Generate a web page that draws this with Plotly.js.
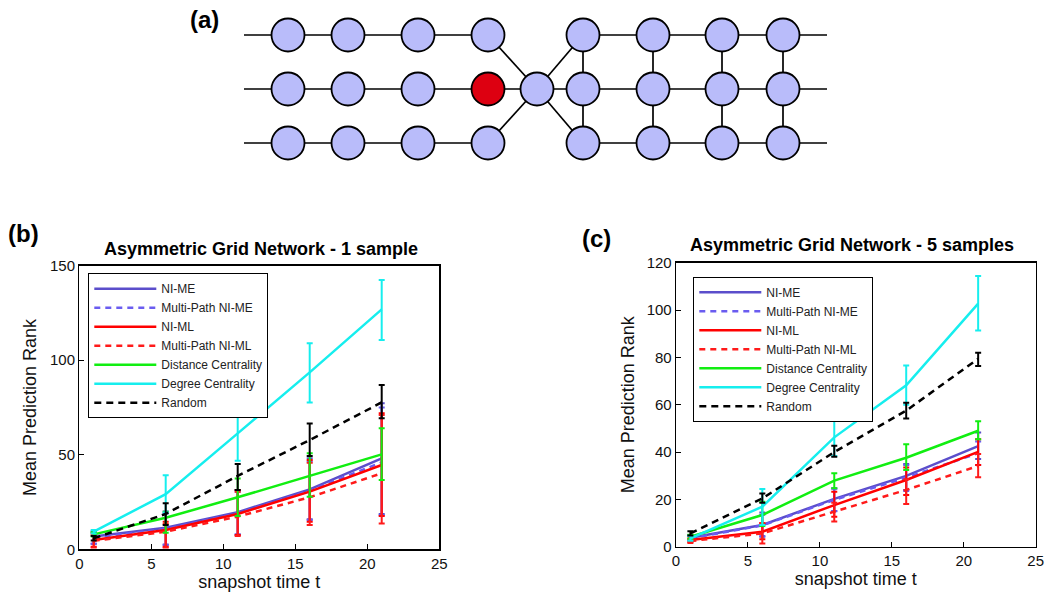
<!DOCTYPE html>
<html>
<head>
<meta charset="utf-8">
<script src="https://cdn.plot.ly/plotly-3.0.1.min.js"></script>
<style>
  html, body { margin: 0; padding: 0; background: #fff; }
  #chart { width: 1048px; height: 594px; }
</style>
</head>
<body>
<div id="chart"></div>
<script>
// ---------------- DATA ----------------
var snapshotTimes = [1, 6, 11, 16, 21];
var seriesNames = ["NI-ME", "Multi-Path NI-ME", "NI-ML", "Multi-Path NI-ML",
                   "Distance Centrality", "Degree Centrality", "Random"];

// Panel (b): 1 sample — mean, upper and lower error-bar ends
var b_niMe      = [6.8, 11.4, 19.6, 31.7, 48.1];
var b_niMe_hi   = [9.5, 20.0, 31.4, 48.1, 77.2];
var b_niMe_lo   = [3.0, 2.5, 7.8, 15.9, 18.7];
var b_mpNiMe    = [6.2, 10.7, 19.0, 31.0, 46.0];
var b_mpNiMe_hi = [9.0, 19.0, 30.5, 46.5, 75.0];
var b_mpNiMe_lo = [3.0, 2.3, 7.8, 15.5, 18.0];
var b_niMl      = [4.9, 10.2, 18.7, 30.5, 44.6];
var b_niMl_hi   = [8.5, 14.6, 31.4, 47.2, 71.9];
var b_niMl_lo   = [1.4, 1.4, 7.6, 14.6, 17.6];
var b_mpNiMl    = [4.5, 9.3, 17.3, 27.5, 40.2];
var b_mpNiMl_hi = [7.5, 13.4, 30.5, 45.8, 71.0];
var b_mpNiMl_lo = [1.0, 0.9, 7.0, 12.9, 13.7];
var b_dist      = [7.9, 16.7, 27.5, 38.8, 50.2];
var b_dist_hi   = [9.0, 19.9, 37.5, 50.8, 64.0];
var b_dist_lo   = [6.8, 8.8, 17.6, 27.8, 36.7];
var b_deg       = [9.3, 29.2, 61.3, 93.6, 126.9];
var b_deg_hi    = [10.2, 39.1, 74.4, 109.0, 142.4];
var b_deg_lo    = [8.4, 19.4, 46.9, 77.7, 110.7];
var b_rand      = [5.8, 18.7, 38.8, 57.8, 77.7];
var b_rand_hi   = [7.0, 24.3, 45.1, 66.6, 86.9];
var b_rand_lo   = [4.6, 12.9, 31.4, 49.3, 69.3];

// Panel (c): 5 samples
var c_niMe      = [3.8, 9.2, 20.2, 29.9, 42.5];
var c_niMe_hi   = [4.8, 14.4, 24.7, 34.9, 48.3];
var c_niMe_lo   = [2.8, 4.2, 15.1, 24.0, 37.1];
var c_mpNiMe    = [3.5, 9.0, 19.8, 29.2, 39.5];
var c_mpNiMe_hi = [4.5, 13.5, 24.5, 34.5, 44.5];
var c_mpNiMe_lo = [2.5, 4.5, 15.0, 23.5, 34.5];
var c_niMl      = [2.8, 6.3, 17.6, 28.2, 40.1];
var c_niMl_hi   = [3.6, 9.9, 23.2, 33.5, 45.4];
var c_niMl_lo   = [2.0, 3.1, 12.7, 21.8, 34.5];
var c_mpNiMl    = [2.4, 5.6, 14.8, 24.0, 34.1];
var c_mpNiMl_hi = [3.2, 10.0, 18.6, 28.5, 39.2];
var c_mpNiMl_lo = [1.6, 1.4, 10.6, 18.0, 29.3];
var c_dist      = [4.2, 13.4, 27.9, 37.6, 49.0];
var c_dist_hi   = [5.0, 19.0, 31.0, 43.3, 53.0];
var c_dist_lo   = [3.4, 8.7, 24.7, 32.4, 45.4];
var c_deg       = [3.5, 16.9, 46.2, 68.2, 102.7];
var c_deg_hi    = [4.5, 24.4, 53.5, 76.6, 114.4];
var c_deg_lo    = [2.5, 9.2, 38.3, 60.0, 91.3];
var c_rand      = [5.6, 20.4, 40.0, 57.5, 79.4];
var c_rand_hi   = [6.5, 22.5, 42.7, 60.8, 82.0];
var c_rand_lo   = [4.7, 18.6, 38.0, 54.2, 76.4];

// Panel (a): asymmetric grid network (diagram coordinates)
var netColX = [244, 288, 348, 418, 488, 537, 583, 653, 722, 783, 827]; // 0 and 10 are open line ends
var netRowY = [35, 89, 143];
var netNodes = [ // [column, row]
  [1,0],[2,0],[3,0],[4,0], [1,1],[2,1],[3,1],[4,1], [1,2],[2,2],[3,2],[4,2],
  [5,1],
  [6,0],[7,0],[8,0],[9,0], [6,1],[7,1],[8,1],[9,1], [6,2],[7,2],[8,2],[9,2]
];
var netHighlighted = [4, 1]; // red node
var netEdges = [ // pairs of [column,row]
  [[0,0],[1,0]],[[1,0],[2,0]],[[2,0],[3,0]],[[3,0],[4,0]],
  [[0,1],[1,1]],[[1,1],[2,1]],[[2,1],[3,1]],[[3,1],[4,1]],[[4,1],[5,1]],[[5,1],[6,1]],
  [[0,2],[1,2]],[[1,2],[2,2]],[[2,2],[3,2]],[[3,2],[4,2]],
  [[4,0],[5,1]],[[4,2],[5,1]],[[5,1],[6,0]],[[5,1],[6,2]],
  [[6,0],[7,0]],[[7,0],[8,0]],[[8,0],[9,0]],[[9,0],[10,0]],
  [[6,1],[7,1]],[[7,1],[8,1]],[[8,1],[9,1]],[[9,1],[10,1]],
  [[6,2],[7,2]],[[7,2],[8,2]],[[8,2],[9,2]],[[9,2],[10,2]],
  [[6,0],[6,1]],[[6,1],[6,2]],[[7,0],[7,1]],[[7,1],[7,2]],
  [[8,0],[8,1]],[[8,1],[8,2]],[[9,0],[9,1]],[[9,1],[9,2]]
];

// ---------------- STYLES ----------------
var colors = ["#5b4ecb", "#6a5cf0", "#ff0000", "#ff1a1a", "#11ee11", "#16eeee", "#000000"];
var dashes = ["solid", "6px,5px", "solid", "6px,5px", "solid", "solid", "7px,5px"];
var FONT = "Arial, 'Liberation Sans', Helvetica, sans-serif";

function mk(name, idx, y, hi, lo, xa, ya, leg, show) {
  return {
    type: "scatter", mode: "lines", name: name,
    x: snapshotTimes, y: y, xaxis: xa, yaxis: ya, legend: leg, showlegend: show,
    line: { color: colors[idx], width: 2.5, dash: dashes[idx] },
    error_y: {
      type: "data", symmetric: false,
      array: hi.map(function (v, i) { return v - y[i]; }),
      arrayminus: lo.map(function (v, i) { return y[i] - v; }),
      color: colors[idx], thickness: 2, width: 3
    },
    hoverinfo: "skip"
  };
}

var bSets = [[b_niMe,b_niMe_hi,b_niMe_lo],[b_mpNiMe,b_mpNiMe_hi,b_mpNiMe_lo],[b_niMl,b_niMl_hi,b_niMl_lo],
             [b_mpNiMl,b_mpNiMl_hi,b_mpNiMl_lo],[b_dist,b_dist_hi,b_dist_lo],[b_deg,b_deg_hi,b_deg_lo],[b_rand,b_rand_hi,b_rand_lo]];
var cSets = [[c_niMe,c_niMe_hi,c_niMe_lo],[c_mpNiMe,c_mpNiMe_hi,c_mpNiMe_lo],[c_niMl,c_niMl_hi,c_niMl_lo],
             [c_mpNiMl,c_mpNiMl_hi,c_mpNiMl_lo],[c_dist,c_dist_hi,c_dist_lo],[c_deg,c_deg_hi,c_deg_lo],[c_rand,c_rand_hi,c_rand_lo]];

var traces = [];

// network edges
var ex = [], ey = [];
netEdges.forEach(function (e) {
  ex.push(netColX[e[0][0]], netColX[e[1][0]], null);
  ey.push(netRowY[e[0][1]], netRowY[e[1][1]], null);
});
traces.push({ type: "scatter", mode: "lines", x: ex, y: ey, xaxis: "x3", yaxis: "y3",
  line: { color: "#000", width: 1.7 }, showlegend: false, hoverinfo: "skip" });
traces.push({ type: "scatter", mode: "markers",
  x: netNodes.map(function (n) { return netColX[n[0]]; }),
  y: netNodes.map(function (n) { return netRowY[n[1]]; }),
  xaxis: "x3", yaxis: "y3", showlegend: false, hoverinfo: "skip",
  marker: { size: 33, symbol: "circle",
    color: netNodes.map(function (n) { return (n[0] === netHighlighted[0] && n[1] === netHighlighted[1]) ? "#dd0011" : "#b9bcfa"; }),
    line: { color: "#000", width: 1.8 } } });

bSets.forEach(function (s, i) { traces.push(mk(seriesNames[i], i, s[0], s[1], s[2], "x", "y", "legend", true)); });
cSets.forEach(function (s, i) { traces.push(mk(seriesNames[i], i, s[0], s[1], s[2], "x2", "y2", "legend2", true)); });

var W = 1048, H = 594;
function fx(px) { return px / W; }
function fy(py) { return 1 - py / H; }

function xAx(dom, anchor) {
  return { domain: dom, anchor: anchor, range: [0, 25], autorange: false, dtick: 5, tick0: 0,
    showgrid: false, zeroline: false, showline: true, mirror: true, linecolor: "#000", linewidth: 1.3,
    ticks: "inside", ticklen: 5, tickwidth: 1, tickcolor: "#000",
    tickfont: { family: FONT, size: 15, color: "#111" },
    title: { text: "snapshot time t", font: { family: FONT, size: 18, color: "#111" }, standoff: 2 } };
}
function yAx(dom, anchor, max, dt, standoff) {
  return { domain: dom, anchor: anchor, range: [0, max], autorange: false, dtick: dt, tick0: 0,
    showgrid: false, zeroline: false, showline: true, mirror: true, linecolor: "#000", linewidth: 1.3,
    ticks: "inside", ticklen: 5, tickwidth: 1, tickcolor: "#000",
    tickfont: { family: FONT, size: 15, color: "#111" },
    title: { text: "Mean Prediction Rank", font: { family: FONT, size: 18, color: "#111" }, standoff: standoff } };
}

var legendCommon = {
  xanchor: "left", yanchor: "top", bgcolor: "#fff", bordercolor: "#000", borderwidth: 1,
  font: { family: FONT, size: 12, color: "#222" }, itemwidth: 62, tracegroupgap: 0,
  itemclick: false, itemdoubleclick: false
};

function ann(text, px, py, size) {
  return { text: text, xref: "paper", yref: "paper", x: fx(px), y: fy(py), xanchor: "center", yanchor: "middle",
    showarrow: false, font: { family: FONT, size: size, color: "#000" } };
}

var layout = {
  width: W, height: H, margin: { l: 0, r: 0, t: 0, b: 0 },
  paper_bgcolor: "#fff", plot_bgcolor: "#fff", hovermode: false,
  font: { family: FONT },
  xaxis: xAx([fx(79.3), fx(439.3)], "y"),
  yaxis: yAx([fy(549.3), fy(265.7)], "x", 150, 50, 8),
  xaxis2: xAx([fx(676), fx(1035.7)], "y2"),
  yaxis2: yAx([fy(546.7), fy(262.7)], "x2", 120, 20, 7),
  xaxis3: { domain: [0, 1], anchor: "y3", range: [0, W], autorange: false, visible: false },
  yaxis3: { domain: [fy(170), 1], anchor: "x3", range: [170, 0], autorange: false, visible: false },
  legend: Object.assign({ x: fx(88.3), y: fy(273.3) }, legendCommon),
  legend2: Object.assign({ x: fx(693.3), y: fy(276.7) }, legendCommon),
  annotations: [
    ann("<b>(a)</b>", 204, 20, 24),
    ann("<b>(b)</b>", 23, 233, 24),
    ann("<b>(c)</b>", 596, 238, 24),
    ann("<b>Asymmetric Grid Network - 1 sample</b>", 261, 249, 18),
    ann("<b>Asymmetric Grid Network - 5 samples</b>", 852, 245, 18)
  ]
};

Plotly.newPlot("chart", traces, layout, { staticPlot: true, displayModeBar: false });
</script>
</body>
</html>
